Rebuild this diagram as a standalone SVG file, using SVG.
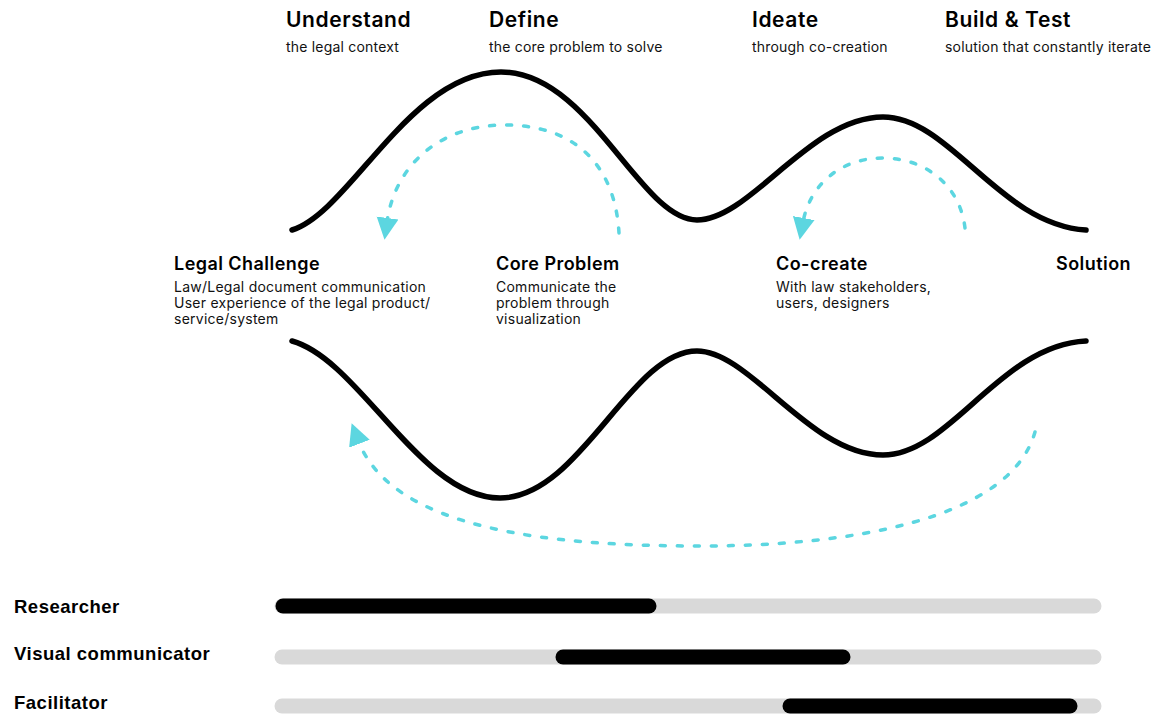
<svg xmlns="http://www.w3.org/2000/svg" width="1155" height="715" viewBox="0 0 1155 715">
<style>
.h{font-family:Inter,"Liberation Sans",sans-serif;font-weight:600;font-size:21px;letter-spacing:0.6px;fill:#000}
.s{font-family:Inter,"Liberation Sans",sans-serif;font-weight:400;font-size:14px;letter-spacing:0.2px;fill:#111}
.m{font-family:Inter,"Liberation Sans",sans-serif;font-weight:600;font-size:18px;letter-spacing:0.45px;fill:#000}
.b{font-family:Inter,"Liberation Sans",sans-serif;font-weight:400;font-size:14px;letter-spacing:0.25px;fill:#111}
.r{font-family:"Liberation Sans",Arial,sans-serif;font-weight:700;font-size:18.5px;letter-spacing:0.5px;fill:#000}
.wave{fill:none;stroke:#000;stroke-width:5.5;stroke-linecap:round}
.dash{fill:none;stroke:#5CD6E0;stroke-width:3.5;stroke-linecap:round;stroke-dasharray:5 12}
.track{stroke:#D9D9D9;stroke-width:15;stroke-linecap:round}
.fill{stroke:#000;stroke-width:15;stroke-linecap:round}
</style>
<defs>
<marker id="ah" markerUnits="userSpaceOnUse" markerWidth="24" markerHeight="24" viewBox="0 0 24 24" refX="4" refY="12" orient="auto">
<path d="M0,1 L22,12 L0,23 Z" fill="#5CD6E0"/>
</marker>
</defs>
<g id="waves">
<path class="wave" d="M292,230 C350,212 410,72 501,72 C590,72 640,220 697,220 C750,220 810,117 883,117 C950,117 1000,225 1086,230"/>
<path class="wave" d="M292,341 C360,360 420,498 500,498 C580,498 630,351 697,351 C750,351 810,455 883,455 C950,455 1000,345 1086,341"/>
</g>
<g id="connectors">
<path class="dash" marker-end="url(#ah)" d="M619,233 C615,165 575,125 505,125 C440,125 395,165 387,222"/>
<path class="dash" marker-end="url(#ah)" d="M965,228 C960,185 925,158 883,158 C840,158 810,185 803,222"/>
<path class="dash" marker-end="url(#ah)" d="M1035,432 C1010,520 850,546 700,546 C550,546 392,530 358,440"/>
</g>
<g id="phase-understand">
<text class="h" x="286" y="27">Understand</text>
<text class="s" x="286" y="52">the legal context</text>
</g>
<g id="phase-define">
<text class="h" x="489" y="27">Define</text>
<text class="s" x="489" y="52">the core problem to solve</text>
</g>
<g id="phase-ideate">
<text class="h" x="752" y="27">Ideate</text>
<text class="s" x="752" y="52">through co-creation</text>
</g>
<g id="phase-build">
<text class="h" x="945" y="27">Build &amp; Test</text>
<text class="s" x="945" y="52">solution that constantly iterate</text>
</g>
<g id="legal-challenge">
<text class="m" x="174" y="270">Legal Challenge</text>
<text class="b" x="174" y="292">Law/Legal document communication</text>
<text class="b" x="174" y="308">User experience of the legal product/</text>
<text class="b" x="174" y="324">service/system</text>
</g>
<g id="core-problem">
<text class="m" x="496" y="270">Core Problem</text>
<text class="b" x="496" y="292">Communicate the</text>
<text class="b" x="496" y="308">problem through</text>
<text class="b" x="496" y="324">visualization</text>
</g>
<g id="co-create">
<text class="m" x="776" y="270">Co-create</text>
<text class="b" x="776" y="292">With law stakeholders,</text>
<text class="b" x="776" y="308">users, designers</text>
</g>
<g id="solution">
<text class="m" x="1056" y="270">Solution</text>
</g>
<g id="role-researcher">
<text class="r" x="14" y="613">Researcher</text>
<line class="track" x1="282" y1="606" x2="1094" y2="606"/>
<line class="fill" x1="283" y1="606" x2="649" y2="606"/>
</g>
<g id="role-visual">
<text class="r" x="14" y="660">Visual communicator</text>
<line class="track" x1="282" y1="657" x2="1094" y2="657"/>
<line class="fill" x1="563" y1="657" x2="843" y2="657"/>
</g>
<g id="role-facilitator">
<text class="r" x="14" y="709">Facilitator</text>
<line class="track" x1="282" y1="706" x2="1094" y2="706"/>
<line class="fill" x1="790" y1="706" x2="1070" y2="706"/>
</g>
</svg>
